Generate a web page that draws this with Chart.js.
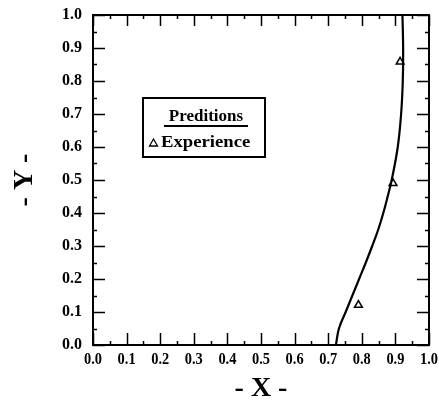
<!DOCTYPE html>
<html>
<head>
<meta charset="utf-8">
<script src="https://cdn.jsdelivr.net/npm/chart.js@4/dist/chart.umd.min.js"></script>
<style>
  html, body { margin: 0; padding: 0; background: #fff; }
  #wrap { width: 439px; height: 400px; }
</style>
</head>
<body>
<div id="wrap"><canvas id="grafico" width="439" height="400"></canvas></div>
<script>
// datos
const predY = [0, 0.05, 0.1, 0.15, 0.2, 0.25, 0.3, 0.35, 0.4, 0.45, 0.5, 0.6, 0.7, 0.8, 0.9, 1.0];
const predX = [0.723, 0.732, 0.752, 0.772, 0.792, 0.812, 0.831, 0.849, 0.864, 0.877, 0.889, 0.907, 0.917, 0.922, 0.923, 0.921];
const expX = [0.914, 0.893, 0.790];
const expY = [0.858, 0.490, 0.121];
const xTicks = [0.0, 0.1, 0.2, 0.3, 0.4, 0.5, 0.6, 0.7, 0.8, 0.9, 1.0];
const yTicks = [0.0, 0.1, 0.2, 0.3, 0.4, 0.5, 0.6, 0.7, 0.8, 0.9, 1.0];

const serif = "'Liberation Serif', 'Times New Roman', serif";

// marco, marcas hacia dentro, etiquetas del eje x y leyenda
const marcoPlugin = {
    id: 'marco',
    afterDraw(chart) {
        const ctx = chart.ctx;
        const a = chart.chartArea;
        const sx = chart.scales.x, sy = chart.scales.y;
        const major = 12, minor = 4;
        ctx.save();
        ctx.strokeStyle = '#000';
        ctx.lineWidth = 1.5;
        ctx.beginPath();
        xTicks.forEach((v, i) => {
            const px = Math.round(sx.getPixelForValue(v)) + 0.5;
            ctx.moveTo(px, a.bottom); ctx.lineTo(px, a.bottom - major);
            ctx.moveTo(px, a.top); ctx.lineTo(px, a.top + major - 1);
            if (i < xTicks.length - 1) {
                const pm = Math.round(sx.getPixelForValue((v + xTicks[i + 1]) / 2)) + 0.5;
                ctx.moveTo(pm, a.bottom); ctx.lineTo(pm, a.bottom - minor);
                ctx.moveTo(pm, a.top); ctx.lineTo(pm, a.top + minor);
            }
        });
        yTicks.forEach((v, i) => {
            const py = Math.round(sy.getPixelForValue(v)) + 0.5;
            ctx.moveTo(a.left, py); ctx.lineTo(a.left + major, py);
            ctx.moveTo(a.right, py); ctx.lineTo(a.right - major, py);
            if (i < yTicks.length - 1) {
                const pm = Math.round(sy.getPixelForValue((v + yTicks[i + 1]) / 2)) + 0.5;
                ctx.moveTo(a.left, pm); ctx.lineTo(a.left + minor, pm);
                ctx.moveTo(a.right, pm); ctx.lineTo(a.right - minor, pm);
            }
        });
        ctx.stroke();

        ctx.lineWidth = 2;
        ctx.strokeRect(a.left, a.top, a.right - a.left, a.bottom - a.top);

        // etiquetas del eje x
        ctx.fillStyle = '#000';
        ctx.font = 'bold 16px ' + serif;
        ctx.textAlign = 'center';
        ctx.textBaseline = 'alphabetic';
        xTicks.forEach(v => {
            ctx.save();
            ctx.translate(sx.getPixelForValue(v), a.bottom + 19);
            ctx.scale(0.9, 1.05);
            ctx.fillText(v.toFixed(1), 0, 0);
            ctx.restore();
        });

        // leyenda
        const bx = 143, by = 98, bw = 122, bh = 59;
        ctx.lineWidth = 2;
        ctx.strokeRect(bx, by, bw, bh);
        ctx.font = 'bold 17px ' + serif;
        ctx.textAlign = 'center';
        ctx.fillText('Preditions', 206, 121);
        ctx.lineWidth = 2;
        ctx.beginPath();
        ctx.moveTo(164, 126); ctx.lineTo(248, 126);
        ctx.stroke();
        ctx.textAlign = 'left';
        ctx.save();
        ctx.translate(161, 147);
        ctx.scale(1.1, 1);
        ctx.fillText('Experience', 0, 0);
        ctx.restore();
        ctx.lineWidth = 1.3;
        ctx.beginPath();
        ctx.moveTo(149.5, 146); ctx.lineTo(157.5, 146); ctx.lineTo(153.5, 139); ctx.closePath();
        ctx.stroke();
        ctx.restore();
    }
};

const ctx = document.getElementById('grafico').getContext('2d');
new Chart(ctx, {
    type: 'scatter',
    data: {
        datasets: [{
            label: 'Preditions',
            data: predX.map((x, i) => ({ x: x, y: predY[i] })),
            showLine: true,
            borderColor: '#000',
            borderWidth: 2.2,
            pointRadius: 0,
            tension: 0.4,
            fill: false
        }, {
            label: 'Experience',
            data: expX.map((x, i) => ({ x: x, y: expY[i] })),
            pointStyle: 'triangle',
            pointRadius: 4.5,
            pointBorderWidth: 1.5,
            pointBackgroundColor: '#fff',
            pointBorderColor: '#000'
        }]
    },
    options: {
        responsive: false,
        animation: false,
        layout: { padding: { left: 0, right: 10, top: 15, bottom: 0 } },
        plugins: {
            legend: { display: false },
            tooltip: { enabled: false }
        },
        scales: {
            x: {
                type: 'linear',
                min: 0, max: 1,
                afterBuildTicks: s => { s.ticks = xTicks.map(v => ({ value: v })); },
                afterFit: s => { s.height = 55; },
                grid: { display: false },
                border: { display: false },
                ticks: { display: false },
                title: {
                    display: true,
                    text: '- X -',
                    color: '#000',
                    font: { family: serif, size: 28, weight: 'bold', lineHeight: 1 },
                    padding: { top: 0, bottom: -3 }
                }
            },
            y: {
                type: 'linear',
                min: 0, max: 1,
                afterBuildTicks: s => { s.ticks = yTicks.map(v => ({ value: v })); },
                afterFit: s => { s.width = 93; },
                grid: { display: false },
                border: { display: false },
                ticks: {
                    padding: 3,
                    color: '#000',
                    font: { family: serif, size: 16, weight: 'bold' },
                    callback: v => v.toFixed(1)
                },
                title: {
                    display: true,
                    text: '- Y -',
                    color: '#000',
                    font: { family: serif, size: 28, weight: 'bold', lineHeight: 1 },
                    padding: { top: 11, bottom: 0 }
                }
            }
        }
    },
    plugins: [marcoPlugin]
});
</script>
</body>
</html>
